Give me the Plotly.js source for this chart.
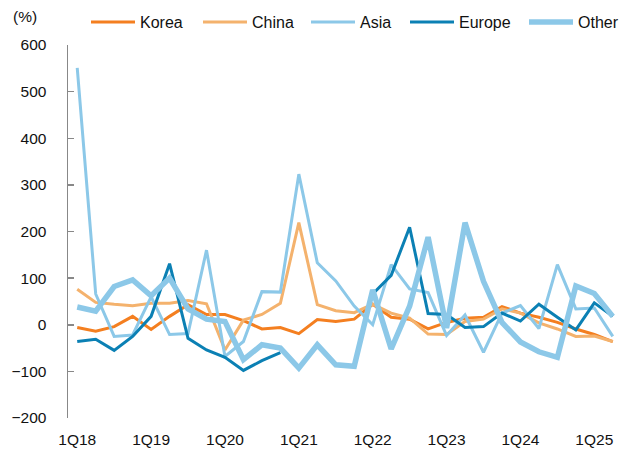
<!DOCTYPE html>
<html>
<head>
<meta charset="utf-8">
<script src="https://cdn.plot.ly/plotly-3.0.1.min.js"></script>
<style>html,body{margin:0;padding:0;background:#fff;}#chart{width:630px;height:452px;}</style>
</head>
<body>
<div id="chart"></div>
<script>
const quarters = ['1Q18','2Q18','3Q18','4Q18','1Q19','2Q19','3Q19','4Q19','1Q20','2Q20','3Q20','4Q20','1Q21','2Q21','3Q21','4Q21','1Q22','2Q22','3Q22','4Q22','1Q23','2Q23','3Q23','4Q23','1Q24','2Q24','3Q24','4Q24','1Q25','2Q25'];
const tickLabels = ['1Q18','1Q19','1Q20','1Q21','1Q22','1Q23','1Q24','1Q25'];
const korea  = [-6,-14,-4,18,-10,18,43,22,22,9,-9,-6,-19,11,7,12,44,16,12,-9,5,14,16,39,25,16,5,-9,-21,-36];
const china  = [76,48,44,41,46,46,52,45,-54,10,22,46,219,43,30,26,44,25,14,-20,-21,7,12,34,25,4,-9,-25,-24,-36];
const asia   = [551,66,-25,-22,60,-21,-19,160,-68,-36,71,70,323,133,94,40,0,129,77,69,-23,21,-59,25,41,-8,129,34,36,-25];
const europe = [-36,-31,-55,-25,18,131,-29,-54,-70,-98,-77,-60,null,null,null,null,66,106,209,24,22,-6,-4,25,8,44,16,-11,47,18];
const other  = [38,29,82,96,62,100,34,12,7,-75,-43,-50,-93,-43,-86,-89,75,-52,40,188,-7,219,93,5,-37,-58,-70,83,67,18];
const seriesNames = ['Korea','China','Asia','Europe','Other'];

const FONT = 'Liberation Sans, Arial, sans-serif';
const TXT = '#111';
const colors = ['#f47f20','#f4b26d','#8cc8e8','#0b80b4','#8cc8e8'];
const widths = [3,3,3,3,5.5];
const values = [korea, china, asia, europe, other];
const legendIds = ['legend','legend2','legend3','legend4','legend5'];
const legendStarts = [93,205,313,412,531];

const traces = values.map((v,i)=>({
  type:'scatter', mode:'lines', name:seriesNames[i], x:quarters, y:v,
  line:{color:colors[i], width:widths[i]}, connectgaps:false, legend:legendIds[i]
}));

const layout = {
  width:630, height:452,
  margin:{l:68, r:8, t:45, b:34, pad:0},
  paper_bgcolor:'#fff', plot_bgcolor:'#fff',
  font:{family:FONT, size:16, color:TXT},
  showlegend:true,
  xaxis:{type:'category', range:[-0.5,29.5], tickmode:'array', tickvals:tickLabels, ticktext:tickLabels,
         showline:false, showgrid:false, zeroline:false, ticks:'', ticklabelstandoff:10,
         tickfont:{family:FONT, size:15.5, color:TXT}},
  xaxis2:{overlaying:'x', anchor:'free', position:0.25, type:'linear', range:[-0.5,29.5],
          tickmode:'linear', tick0:-0.5, dtick:1, ticks:'inside', ticklen:5, tickwidth:1.5, tickcolor:'#888',
          showline:true, linecolor:'#888', linewidth:1.5, showticklabels:false, showgrid:false, zeroline:false},
  yaxis:{range:[-200,600], dtick:100, tickmode:'linear', tick0:0, showline:true, linecolor:'#888', linewidth:1.5,
         ticks:'inside', ticklen:6, tickwidth:1.5, tickcolor:'#888', showgrid:false, zeroline:false,
         ticklabelstandoff:17, tickfont:{family:FONT, size:15.5, color:TXT}},
  annotations:[{text:'(%)', xref:'paper', yref:'paper', x:(39-68)/554, y:(418-17)/373, xanchor:'right', yanchor:'middle',
                showarrow:false, font:{family:FONT, size:15.5, color:TXT}}]
};
legendIds.forEach((id,i)=>{
  layout[id] = {orientation:'h', xref:'container', yref:'container', x:(legendStarts[i]-7)/630, y:1-22/452,
                xanchor:'left', yanchor:'middle', font:{family:FONT, size:16, color:TXT}, itemwidth:44,
                bgcolor:'rgba(0,0,0,0)'};
});

Plotly.newPlot('chart', traces, layout, {staticPlot:true});
</script>
</body>
</html>
